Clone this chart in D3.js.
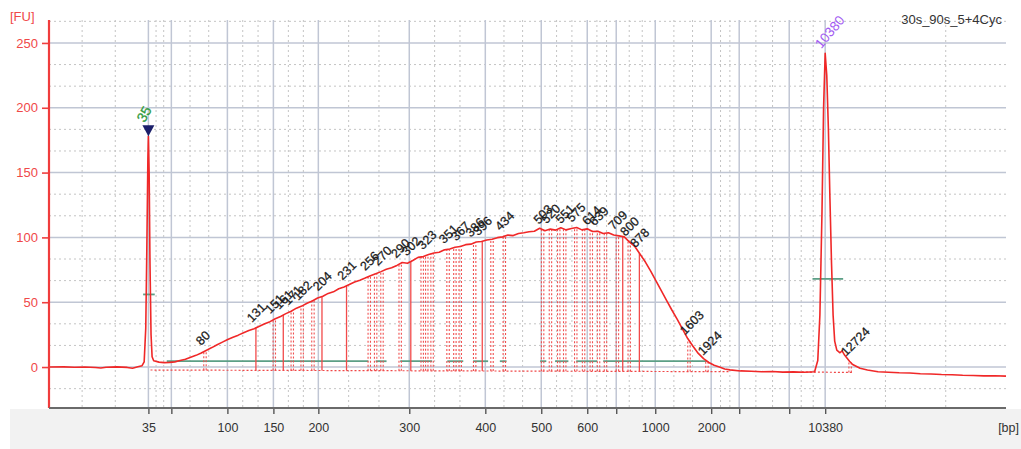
<!DOCTYPE html>
<html>
<head>
<meta charset="utf-8">
<script src="https://cdn.jsdelivr.net/npm/d3@7"></script>
<style>
  body { margin: 0; background: #fff; font-family: "Liberation Sans", Arial, sans-serif; }
</style>
</head>
<body>
<script>
// Ladder calibration: fragment size (bp) -> migration time (s)
const ladderBp  = [35, 50, 100, 150, 200, 300, 400, 500, 600, 700, 1000, 2000, 3000, 7000, 10380];
const ladderSec = [43.00, 45.17, 50.47, 54.82, 59.07, 67.67, 74.86, 80.15, 84.50, 87.24, 90.93, 96.22, 98.87, 103.60, 107.00];
const labeledTicks = [35, 100, 150, 200, 300, 400, 500, 600, 1000, 2000, 10380];
const yTicks = [0, 50, 100, 150, 200, 250];
const timeRange = [33.6, 124.1];
const fuRange = [-31.6, 267.7];

// Electropherogram trace: [time (s), fluorescence (FU)]
const trace = [
  [33.6,0],[35.0,0.1],[36.0,-0.2],[37.0,0],[38.0,-0.4],[38.5,-0.8],[39.0,-0.2],[40.0,0.1],[41.0,-0.3],[41.5,-0.9],
  [42.0,0.2],[42.4,1.0],[42.6,4],[42.75,30],[42.85,90],[42.95,160],[43.0,178],[43.07,150],[43.15,80],[43.25,25],[43.35,8],
  [43.5,4.8],[44.0,3.8],[44.5,3.4],[45.0,3.6],[45.5,4.0],[46.0,5.0],[46.5,6.0],[47.0,7.6],[47.5,9.0],[48.0,10.8],
  [48.5,13.0],[49.0,15.0],[49.5,17.2],[50.0,19.2],[50.5,21.2],[51.0,23.0],[51.5,24.6],[52.0,26.5],[52.5,28.2],[53.0,29.6],
  [53.5,31.4],[54.0,33.4],[54.5,35.0],[55.0,37.2],[55.5,39.0],[56.0,41.2],[56.5,43.0],[57.0,45.4],[57.5,47.0],[58.0,49.2],
  [58.5,51.0],[59.0,53.2],[59.5,54.6],[60.0,56.8],[60.5,58.0],[61.0,60.4],[61.5,61.8],[62.0,63.6],[62.5,65.6],[63.0,67.0],
  [63.5,68.6],[64.0,70.4],[64.5,72.0],[65.0,73.6],[65.5,75.4],[66.0,76.6],[66.5,78.4],[67.0,80.6],[67.5,80.0],[68.0,82.2],
  [68.5,84.6],[69.0,85.2],[69.5,86.8],[70.0,88.0],[70.5,88.6],[71.0,90.4],[71.5,91.0],[72.0,92.4],[72.5,93.0],[73.0,94.4],
  [73.5,94.8],[74.0,96.4],[74.5,96.8],[75.0,98.0],[75.5,98.6],[76.0,99.8],[76.5,100.4],[77.0,101.8],[77.5,101.4],[78.0,103.0],
  [78.5,103.6],[79.0,104.4],[79.5,104.8],[80.0,107.0],[80.5,105.2],[81.0,106.4],[81.5,105.6],[82.0,107.4],[82.5,105.8],[83.0,106.8],
  [83.5,107.6],[84.0,105.8],[84.5,106.6],[85.0,104.6],[85.5,104.8],[86.0,103.0],[86.5,103.6],[87.0,101.8],[87.5,101.2],[88.0,100.4],
  [88.5,96.4],[89.0,93.0],[89.5,87.0],[90.0,81.0],[90.5,74.0],[91.0,66.5],[91.5,59.0],[92.0,51.5],[92.5,44.0],[93.0,37.0],
  [93.5,29.5],[94.0,22.0],[94.5,16.0],[95.0,10.5],[95.5,6.5],[96.0,3.5],[96.5,1.4],[97.0,0],[97.5,-1.5],[98.0,-2.2],
  [99.0,-3.0],[100.0,-3.3],[101.0,-3.6],[102.0,-3.4],[103.0,-3.9],[104.0,-3.7],[105.0,-4.0],[105.6,-3.8],[106.0,-3.6],
  [106.3,5],[106.5,40],[106.7,120],[106.85,200],[107.0,242],[107.15,225],[107.3,185],[107.45,130],[107.6,80],[107.75,40],
  [107.9,20],[108.1,13],[108.4,11],[108.6,12.5],[108.85,9],[109.3,4.5],[109.6,2],[110.3,-1],[111.0,-2.3],[112.0,-3.6],
  [113.0,-4.0],[114.0,-4.4],[115.0,-4.6],[116.0,-5.2],[117.0,-5.4],[118.0,-5.8],[119.0,-5.9],[120.0,-6.3],[121.0,-6.5],
  [122.0,-6.8],[123.0,-6.7],[124.1,-7.0]
];

// Called peaks (bp) with labels, extra region borders, and which are drawn solid
const peakBp = [80, 131, 151, 161, 171, 182, 204, 231, 256, 270, 290, 302, 323, 351, 367, 386, 396, 434,
                503, 520, 551, 575, 614, 639, 709, 800, 878, 1603, 1924, 12724];
const extraLineBp = [194, 263, 317, 330, 360, 412, 538, 592, 663, 750];
const solidLineBp = [131, 161, 204, 231, 302, 396, 750, 878];

// Baselines
const greenSegBp = [[47, 255], [263, 275], [290, 330], [350, 371], [384, 405], [426, 438],
                    [498, 511], [530, 559], [576, 634], [655, 1924]];
const greenFu = 4.5;
const markerGreenSec = [[42.5, 43.6], [105.8, 108.7]];
const markerGreenFu = [56, 68];
const dotBaseSec = [[43.2, 98.0], [104.8, 109.6]];
const dotBaseFu = [[-2.3, -3.6], [-3.8, -4.2]];

const markerLow = {bp: 35, fu: 178};
const markerHigh = {bp: 10380, fu: 242};
const sampleName = "30s_90s_5+4Cyc";

const width = 1021, height = 449;
const margin = { top: 20, right: 15, bottom: 41, left: 49 };

const svg = d3.select("body").append("svg")
  .attr("width", width)
  .attr("height", height);

// scales
const bpToSec = d3.scaleLinear().domain(ladderBp).range(ladderSec);
const x = d3.scaleLinear().domain(timeRange).range([margin.left, width - margin.right]);
const y = d3.scaleLinear().domain(fuRange).range([height - margin.bottom, margin.top]);
const xb = bp => x(bpToSec(bp));

const bis = d3.bisector(d => d[0]).left;
function fuAt(t) {
  const i = Math.max(1, Math.min(trace.length - 1, bis(trace, t)));
  const a = trace[i - 1], b = trace[i];
  return a[1] + (b[1] - a[1]) * (t - a[0]) / (b[0] - a[0]);
}
function baseAt(t) {
  const k = t > 100 ? 1 : 0;
  return d3.scaleLinear().domain(dotBaseSec[k]).range(dotBaseFu[k])(t);
}

// background band under the axis
svg.append("rect")
  .attr("x", 10).attr("y", height - margin.bottom + 1)
  .attr("width", width - 10).attr("height", margin.bottom)
  .attr("fill", "#f2f2f2");

const x0 = margin.left, x1 = width - margin.right;
const yTop = margin.top, yBot = height - margin.bottom;

// grid: solid at ladder / FU ticks, dashed at thirds
const gridPx = [x0].concat(ladderBp.map(xb), [x1]);
const grid = svg.append("g");
for (let i = 0; i < gridPx.length - 1; i++) {
  const a = gridPx[i], b = gridPx[i + 1];
  [a + (b - a) / 3, a + 2 * (b - a) / 3].forEach(px => {
    grid.append("line").attr("x1", px).attr("x2", px).attr("y1", yTop).attr("y2", yBot)
      .attr("stroke", "#c4c4c4").attr("stroke-width", 1).attr("stroke-dasharray", "2,3");
  });
}
d3.range(-1, 17).map(k => k * 50 / 3).filter(v => Math.round(v) % 50 !== 0 && v > fuRange[0] && v < fuRange[1])
  .forEach(v => {
    grid.append("line").attr("x1", x0).attr("x2", x1).attr("y1", y(v)).attr("y2", y(v))
      .attr("stroke", "#c4c4c4").attr("stroke-width", 1).attr("stroke-dasharray", "2,3");
  });
ladderBp.forEach(bp => {
  grid.append("line").attr("x1", xb(bp)).attr("x2", xb(bp)).attr("y1", yTop).attr("y2", yBot)
    .attr("stroke", "#c0c6d4").attr("stroke-width", 1.5);
});
yTicks.forEach(v => {
  grid.append("line").attr("x1", x0).attr("x2", x1).attr("y1", y(v)).attr("y2", y(v))
    .attr("stroke", "#c0c6d4").attr("stroke-width", 1.5);
});

// dotted red baselines
dotBaseSec.forEach((s, k) => {
  svg.append("line")
    .attr("x1", x(s[0])).attr("x2", x(s[1]))
    .attr("y1", y(dotBaseFu[k][0])).attr("y2", y(dotBaseFu[k][1]))
    .attr("stroke", "#f04848").attr("stroke-width", 1.2).attr("stroke-dasharray", "2,2");
});

// green baselines
greenSegBp.forEach(s => {
  svg.append("line")
    .attr("x1", xb(s[0])).attr("x2", xb(s[1]))
    .attr("y1", y(greenFu)).attr("y2", y(greenFu))
    .attr("stroke", "#5c9f86").attr("stroke-width", 1.8);
});
markerGreenSec.forEach((s, k) => {
  svg.append("line")
    .attr("x1", x(s[0])).attr("x2", x(s[1]))
    .attr("y1", y(markerGreenFu[k])).attr("y2", y(markerGreenFu[k]))
    .attr("stroke", "#5c9f86").attr("stroke-width", 1.8);
});

// peak lines
const allLines = peakBp.concat(extraLineBp);
allLines.forEach(bp => {
  const t = bpToSec(bp);
  const top = y(fuAt(t)), bot = y(baseAt(t));
  const px = x(t);
  if (solidLineBp.includes(bp)) {
    svg.append("line").attr("x1", px).attr("x2", px).attr("y1", bot).attr("y2", top)
      .attr("stroke", "#f24a4a").attr("stroke-width", 1.3);
  } else {
    [-1.2, 1.2].forEach(dx => {
      svg.append("line").attr("x1", px + dx).attr("x2", px + dx).attr("y1", bot).attr("y2", top)
        .attr("stroke", "#f05050").attr("stroke-width", 1.1).attr("stroke-dasharray", "2,2");
    });
  }
});

// trace
const line = d3.line().x(d => x(d[0])).y(d => y(d[1]));
svg.append("path")
  .datum(trace)
  .attr("d", line)
  .attr("fill", "none")
  .attr("stroke", "#f02828")
  .attr("stroke-width", 1.6)
  .attr("stroke-linejoin", "round");

// peak labels
peakBp.forEach(bp => {
  const t = bpToSec(bp);
  const px = x(t) - 4, py = y(fuAt(t)) - 5;
  svg.append("text")
    .attr("transform", `translate(${px},${py}) rotate(-45)`)
    .attr("font-size", 12.5)
    .attr("fill", "#1a1a1a")
    .attr("stroke", "#1a1a1a").attr("stroke-width", 0.25)
    .text(bp);
});

// lower marker (35)
{
  const px = xb(markerLow.bp), py = y(markerLow.fu);
  svg.append("path")
    .attr("d", `M${px},${py} L${px - 6},${py - 11} L${px + 6},${py - 11} Z`)
    .attr("fill", "#1b1f6a");
  svg.append("text")
    .attr("transform", `translate(${px - 4},${py - 13}) rotate(-60)`)
    .attr("font-size", 14)
    .attr("fill", "#2f9a3c")
    .attr("stroke", "#2f9a3c").attr("stroke-width", 0.3)
    .text(markerLow.bp);
}
// upper marker (10380)
{
  const px = xb(markerHigh.bp), py = y(markerHigh.fu);
  svg.append("text")
    .attr("transform", `translate(${px - 4},${py - 4}) rotate(-50)`)
    .attr("font-size", 13.5)
    .attr("fill", "#a25af2")
    .text(markerHigh.bp);
}

// y axis (red)
const yAxis = svg.append("g")
  .attr("transform", `translate(${x0},0)`)
  .call(d3.axisLeft(y).tickValues(yTicks).tickSize(7).tickPadding(4))
  .call(g => g.select(".domain").remove());
yAxis.selectAll("line").attr("stroke", "#f04040").attr("stroke-width", 1.6);
yAxis.selectAll("text").attr("fill", "#f04848").attr("font-size", 13)
  .attr("font-family", "Liberation Sans, Arial, sans-serif");
svg.append("line").attr("x1", x0).attr("x2", x0).attr("y1", yTop).attr("y2", yBot)
  .attr("stroke", "#f03c3c").attr("stroke-width", 2.2);
svg.append("text").attr("x", 10).attr("y", 21).attr("font-size", 13).attr("fill", "#f04848").text("[FU]");

// x axis
const xAxis = svg.append("g")
  .attr("transform", `translate(0,${yBot})`)
  .call(d3.axisBottom(x).tickValues(ladderBp.map(bpToSec)).tickSize(6).tickPadding(9)
    .tickFormat((d, i) => labeledTicks.includes(ladderBp[i]) ? ladderBp[i] : ""))
  .call(g => g.select(".domain").remove());
xAxis.selectAll("line").attr("stroke", "#555").attr("stroke-width", 1.4);
xAxis.selectAll("text").attr("fill", "#333").attr("font-size", 12.5)
  .attr("font-family", "Liberation Sans, Arial, sans-serif");
svg.append("line").attr("x1", x0).attr("x2", x1).attr("y1", yBot).attr("y2", yBot)
  .attr("stroke", "#6a6a6a").attr("stroke-width", 2);
svg.append("text").attr("x", 1019).attr("y", 432).attr("text-anchor", "end")
  .attr("font-size", 12.5).attr("fill", "#333").text("[bp]");

// sample name
svg.append("text").attr("x", 1002).attr("y", 24).attr("text-anchor", "end")
  .attr("font-size", 13).attr("fill", "#333").text(sampleName);
</script>
</body>
</html>
